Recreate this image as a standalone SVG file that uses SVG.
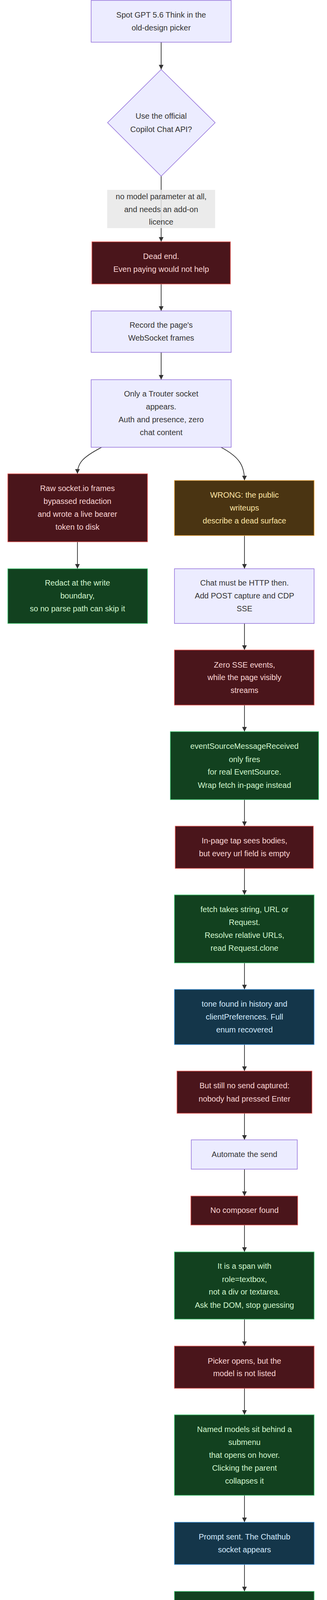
<svg xmlns="http://www.w3.org/2000/svg" width="836" height="5720" viewBox="0 0 836 5720">
<style>
text{font-family:"Liberation Sans",Arial,sans-serif;font-size:20px;text-anchor:middle;dominant-baseline:central}
.lav rect,.lav polygon{fill:#ECECFF;stroke:#9370DB;stroke-width:1.5}
.lav text{fill:#333}
.red rect{fill:#4a151b;stroke:#e0524e;stroke-width:1.5}
.red text{fill:#fcd6d6}
.grn rect{fill:#12411f;stroke:#3ec46d;stroke-width:1.5}
.grn text{fill:#d3f7cf}
.brn rect{fill:#4a3412;stroke:#e8a33a;stroke-width:1.5}
.brn text{fill:#ffe7a6}
.nav rect{fill:#14364a;stroke:#3b8fd6;stroke-width:1.5}
.nav text{fill:#d4ecff}
.edges path{fill:none;stroke:#333;stroke-width:1.8;marker-end:url(#ah)}
.elabel rect{fill:#e8e8e8;opacity:0.85}
.elabel text{fill:#333}
</style>
<defs>
<marker id="ah" markerUnits="userSpaceOnUse" markerWidth="12" markerHeight="12" refX="10" refY="5" viewBox="0 0 10 10" orient="auto"><path d="M0,0L10,5L0,10z" fill="#333"/></marker>
</defs>
<g class="edges">
<path d="M412,108V178"/>
<path d="M412,451V619"/>
<path d="M412,727V796"/>
<path d="M412,902V972"/>
<path d="M260,1145C212,1170 198,1185 198,1213"/>
<path d="M565,1145C612,1170 625,1192 625,1230"/>
<path d="M198,1387V1456"/>
<path d="M625,1371V1456"/>
<path d="M625,1596V1664"/>
<path d="M625,1805V1873"/>
<path d="M625,2047V2115"/>
<path d="M625,2223V2291"/>
<path d="M625,2465V2533"/>
<path d="M625,2674V2742"/>
<path d="M625,2850V2918"/>
<path d="M625,2993V3062"/>
<path d="M625,3136V3205"/>
<path d="M625,3377V3446"/>
<path d="M625,3554V3622"/>
<path d="M625,3828V3897"/>
<path d="M625,4005V4074"/>
<path d="M625,4246V4315"/>
<path d="M625,4455V4524"/>
<path d="M625,4599V4667"/>
<path d="M625,4841V4909"/>
<path d="M625,5148V5218"/>
<path d="M625,5325V5393"/>
<path d="M625,5467V5537"/>
</g>
<g class="elabel" id="label1"><rect x="274" y="486" width="276" height="98"/><text x="412" y="503">no model parameter at all,</text><text x="412" y="536">and needs an add-on</text><text x="412" y="568">licence</text></g>
<g id="spot" class="lav"><rect x="233" y="1" width="358" height="107"/><text x="412" y="38">Spot GPT 5.6 Think in the</text><text x="412" y="71">old-design picker</text></g>
<g id="api" class="lav"><polygon points="412,178 550,314 412,451 275,314"/><text x="412" y="297">Use the official</text><text x="412" y="331">Copilot Chat API?</text></g>
<g id="dead" class="red"><rect x="235" y="619" width="354" height="108"/><text x="412" y="656">Dead end.</text><text x="412" y="689">Even paying would not help</text></g>
<g id="record" class="lav"><rect x="233" y="796" width="358" height="106"/><text x="412" y="832">Record the page's</text><text x="412" y="865">WebSocket frames</text></g>
<g id="only" class="lav"><rect x="233" y="972" width="358" height="173"/><text x="412" y="1008">Only a Trouter socket</text><text x="412" y="1041">appears.</text><text x="412" y="1074">Auth and presence, zero</text><text x="412" y="1107">chat content</text></g>
<g id="raw" class="red"><rect x="20" y="1213" width="357" height="174"/><text x="198" y="1250">Raw socket.io frames</text><text x="198" y="1283">bypassed redaction</text><text x="198" y="1316">and wrote a live bearer</text><text x="198" y="1349">token to disk</text></g>
<g id="wrong1" class="brn"><rect x="446" y="1230" width="357" height="141"/><text x="625" y="1267">WRONG: the public</text><text x="625" y="1300">writeups</text><text x="625" y="1333">describe a dead surface</text></g>
<g id="redact" class="grn"><rect x="20" y="1456" width="357" height="140"/><text x="198" y="1492">Redact at the write</text><text x="198" y="1525">boundary,</text><text x="198" y="1558">so no parse path can skip it</text></g>
<g id="chat" class="lav"><rect x="446" y="1456" width="357" height="140"/><text x="625" y="1492">Chat must be HTTP then.</text><text x="625" y="1525">Add POST capture and CDP</text><text x="625" y="1558">SSE</text></g>
<g id="zero" class="red"><rect x="446" y="1664" width="357" height="141"/><text x="625" y="1702">Zero SSE events,</text><text x="625" y="1734">while the page visibly</text><text x="625" y="1767">streams</text></g>
<g id="evsrc" class="grn"><rect x="435.5" y="1873" width="379" height="174"/><text x="625" y="1910">eventSourceMessageReceived</text><text x="625" y="1944">only fires</text><text x="625" y="1976">for real EventSource.</text><text x="625" y="2010">Wrap fetch in-page instead</text></g>
<g id="inpage" class="red"><rect x="448" y="2115" width="353" height="108"/><text x="625" y="2152">In-page tap sees bodies,</text><text x="625" y="2185">but every url field is empty</text></g>
<g id="fetch" class="grn"><rect x="446" y="2291" width="357" height="174"/><text x="625" y="2328">fetch takes string, URL or</text><text x="625" y="2361">Request.</text><text x="625" y="2394">Resolve relative URLs,</text><text x="625" y="2427">read Request.clone</text></g>
<g id="tone" class="nav"><rect x="446" y="2533" width="357" height="141"/><text x="625" y="2570">tone found in history and</text><text x="625" y="2603">clientPreferences. Full</text><text x="625" y="2636">enum recovered</text></g>
<g id="still" class="red"><rect x="452.5" y="2742" width="345" height="108"/><text x="625" y="2779">But still no send captured:</text><text x="625" y="2813">nobody had pressed Enter</text></g>
<g id="automate" class="lav"><rect x="489" y="2918" width="271" height="75"/><text x="625" y="2955">Automate the send</text></g>
<g id="nocomp" class="red"><rect x="488" y="3062" width="273" height="74"/><text x="625" y="3098">No composer found</text></g>
<g id="span" class="grn"><rect x="446" y="3205" width="357" height="172"/><text x="625" y="3241">It is a span with</text><text x="625" y="3275">role=textbox,</text><text x="625" y="3307">not a div or textarea.</text><text x="625" y="3341">Ask the DOM, stop guessing</text></g>
<g id="picker" class="red"><rect x="446" y="3446" width="357" height="108"/><text x="625" y="3484">Picker opens, but the</text><text x="625" y="3516">model is not listed</text></g>
<g id="named" class="grn"><rect x="446" y="3622" width="357" height="206"/><text x="625" y="3659">Named models sit behind a</text><text x="625" y="3692">submenu</text><text x="625" y="3725">that opens on hover.</text><text x="625" y="3758">Clicking the parent</text><text x="625" y="3791">collapses it</text></g>
<g id="prompt" class="nav"><rect x="446" y="3897" width="357" height="108"/><text x="625" y="3934">Prompt sent. The Chathub</text><text x="625" y="3967">socket appears</text></g>
<g id="correction" class="grn"><rect x="446" y="4074" width="357" height="172"/><text x="625" y="4110">CORRECTION: the writeups</text><text x="625" y="4143">were right.</text><text x="625" y="4176">The socket opens lazily on</text><text x="625" y="4210">first send</text></g>
<g id="oneline" class="nav"><rect x="446" y="4315" width="357" height="140"/><text x="625" y="4352">One-line diff:</text><text x="625" y="4385">tone Magic to</text><text x="625" y="4418">Gpt_5_6_Reasoning</text></g>
<g id="build" class="lav"><rect x="467" y="4524" width="315.5" height="75"/><text x="625" y="4561">Build the API and driver</text></g>
<g id="browser" class="red"><rect x="446" y="4667" width="357" height="174"/><text x="625" y="4704">Browser answers correctly</text><text x="625" y="4737">on screen.</text><text x="625" y="4770">API returns no completion</text><text x="625" y="4803">frame</text></g>
<g id="playwright" class="grn"><rect x="446" y="4909" width="357" height="239"/><text x="625" y="4946">Playwright dispatches</text><text x="625" y="4979">events only while</text><text x="625" y="5012">the thread is inside a</text><text x="625" y="5045">Playwright call.</text><text x="625" y="5078">queue.get starved every</text><text x="625" y="5111">handler</text></g>
<g id="wrong2" class="brn"><rect x="446" y="5218" width="357" height="107"/><text x="625" y="5254">WRONG: images cannot</text><text x="625" y="5287">work</text></g>
<g id="watch" class="lav"><rect x="467.5" y="5393" width="315" height="74"/><text x="625" y="5430">Watch an actual upload</text></g>
<g id="upload" class="nav"><rect x="446" y="5537" width="357" height="173"/><text x="625" y="5573">UploadFile takes base64 in</text><text x="625" y="5606">multipart,</text><text x="625" y="5639">bound to the conversation</text><text x="625" y="5672">server-side</text></g>
</svg>
